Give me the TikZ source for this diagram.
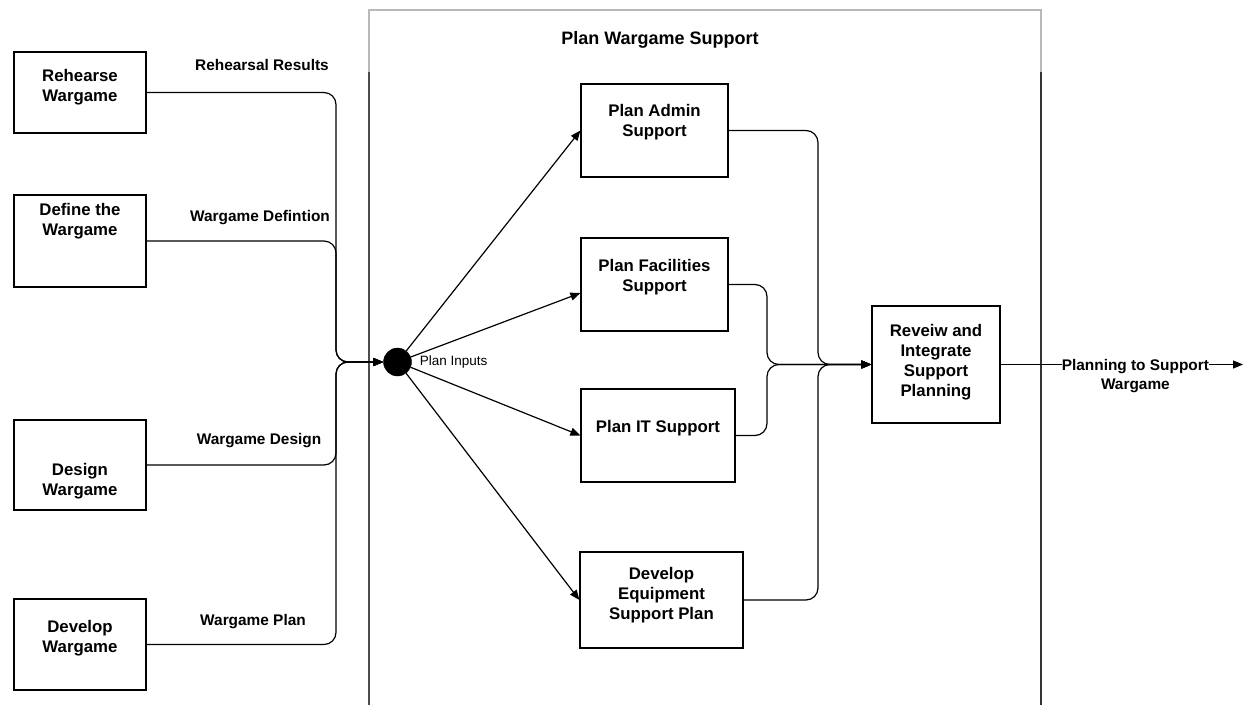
\documentclass[tikz,border=0pt]{standalone}
\usepackage{fontspec}
\setmainfont{Liberation Sans}
\usetikzlibrary{arrows.meta,shapes,positioning,calc}
\tikzset{
    proc/.style={
        rectangle,
        draw=black,
        line width=1.2pt,
        fill=white,
        inner sep=0pt,
    },
    proctext/.style={
        anchor=north,
        align=center,
        inner sep=0pt,
        font=\bfseries\fontsize{16.8}{20}\selectfont,
    },
    junction/.style={
        circle,
        draw=black,
        fill=black,
        inner sep=0pt,
        minimum size=28pt,
    },
    flowlabel/.style={
        font=\bfseries\fontsize{15.4}{18.5}\selectfont,
        inner sep=0pt,
    },
    flow/.style={
        draw,
        ->,>={Triangle[length=10pt,width=8pt]},
        line width=1.2pt,
        rounded corners=12pt,
    },
    fan/.style={
        draw,
        ->,>={Triangle[length=10pt,width=8pt]},
        line width=1.2pt,
    },
    lane/.style={
        line width=1.2pt,
    },
}
\begin{document}
\begin{tikzpicture}[x=1pt,y=-1pt]
\useasboundingbox (0,0) rectangle (1248,705);
% container
\draw[lane, gray!55] (369,72) -- (369,10) -- (1041,10) -- (1041,72);
\draw[lane, black!70] (369,72) -- (369,705);
\draw[lane, black!80] (1041,72) -- (1041,705);
\node[font=\bfseries\fontsize{18}{21}\selectfont] (title) at (660,40) {Plan Wargame Support};
% inputs
\node[proc, minimum width=132pt, minimum height=81pt,
      label={[proctext, yshift=-18pt]north:{Rehearse\\Wargame}}] (rw) at (80,92.5) {};
\node[proc, minimum width=132pt, minimum height=92pt,
      label={[proctext, yshift=-9pt]north:{Define the\\Wargame}}] (dw) at (80,241) {};
\node[proc, minimum width=132pt, minimum height=90pt,
      label={[proctext, yshift=-44pt]north:{Design\\Wargame}}] (dsw) at (80,465) {};
\node[proc, minimum width=132pt, minimum height=91pt,
      label={[proctext, yshift=-22pt]north:{Develop\\Wargame}}] (dvw) at (80,644.5) {};
\node[flowlabel] (lbl1) at (262,65) {Rehearsal Results};
\node[flowlabel] (lbl2) at (260,218) {Wargame Defintion};
\node[flowlabel] (lbl3) at (259,441) {Wargame Design};
\node[flowlabel] (lbl4) at (253,622) {Wargame Plan};
\node[junction, label={[font=\fontsize{13.5}{15}\selectfont, inner sep=0pt, label distance=8pt]right:Plan Inputs}] (junc) at (397.5,362) {};
\coordinate (lj) at (336,362);
\draw[flow] (rw.east) -| (lj) -- (junc);
\draw[flow] (dw.east) -| (lj) -- (junc);
\draw[flow] (dsw.east) -| (lj) -- (junc);
\draw[flow] (dvw.east) -| (lj) -- (junc);
% sub processes
\node[proc, minimum width=147pt, minimum height=93pt,
      label={[proctext, yshift=-21pt]north:{Plan Admin\\Support}}] (adm) at (654.5,130.5) {};
\node[proc, minimum width=147pt, minimum height=93pt,
      label={[proctext, yshift=-22pt]north:{Plan Facilities\\Support}}] (fac) at (654.5,284.5) {};
\node[proc, minimum width=154pt, minimum height=93pt,
      label={[proctext, yshift=-32pt]north:{Plan IT Support}}] (it) at (658,435.5) {};
\node[proc, minimum width=163pt, minimum height=96pt,
      label={[proctext, yshift=-16pt]north:{Develop\\Equipment\\Support Plan}}] (eqp) at (661.5,600) {};
\node[proc, minimum width=128pt, minimum height=117pt,
      label={[proctext, yshift=-19pt]north:{Reveiw and\\Integrate\\Support\\Planning}}] (rev) at (936,364.5) {};
\draw[fan] (junc) -- (adm.west);
\draw[fan] (junc) -- ($(fac.west)+(0,8.5)$);
\draw[fan] (junc) -- (it.west);
\draw[fan] (junc) -- (eqp.west);
\coordinate (rj1) at (818,364.5);
\coordinate (rj2) at (767,364.5);
\draw[flow] (adm.east) -| (rj1) -- (rev.west);
\draw[flow] (fac.east) -| (rj2) -- (rev.west);
\draw[flow] (it.east) -| (rj2) -- (rev.west);
\draw[flow] (eqp.east) -| (rj1) -- (rev.west);
% output
\coordinate (out) at (1243,364.5);
\draw[fan] (rev.east) -- (out)
    node[flowlabel, fill=white, align=center, anchor=north, yshift=5.6pt, pos=0.556] (outlbl) {Planning to Support\\Wargame};
\end{tikzpicture}
\end{document}
